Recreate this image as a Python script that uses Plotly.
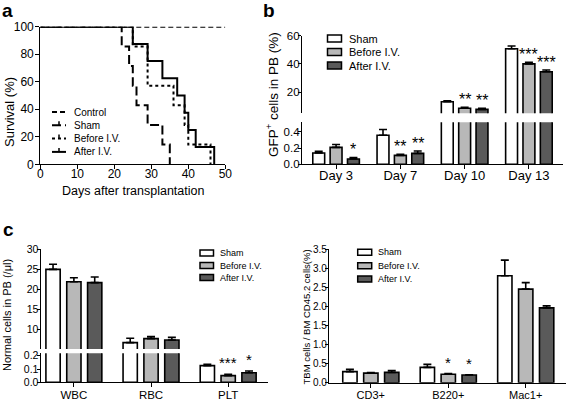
import plotly.graph_objects as go

W, H = 567, 402
def px(x): return x / W
def py(y): return 1 - y / H

FONT = "Liberation Sans, Arial, sans-serif"

# ---------------- data ----------------
# panel a: Kaplan-Meier survival
days_control = [0, 50]
surv_control = [100, 100]
days_sham = [0, 22, 24, 25, 26, 29, 33, 35]
surv_sham = [100, 85.7, 71.4, 57.1, 42.9, 28.6, 14.3, 0]
days_before = [0, 25, 29, 36, 39, 40, 46]
surv_before = [100, 85.7, 57.1, 42.9, 28.6, 14.3, 0]
days_after = [0, 25, 29, 33, 37, 39, 40, 42, 47]
surv_after = [100, 87.5, 75, 62.5, 50, 37.5, 25, 12.5, 0]

# panel b: GFP+ cells in PB (%)
b_days = ["Day 3", "Day 7", "Day 10", "Day 13"]
b_sham = [0.14, 0.36, 13.2, 50.8]
b_sham_err = [0.02, 0.07, 0.7, 1.9]
b_before = [0.21, 0.11, 8.6, 40.0]
b_before_err = [0.035, 0.015, 0.6, 1.1]
b_after = [0.065, 0.135, 7.8, 34.5]
b_after_err = [0.02, 0.03, 0.7, 1.2]
b_sham_sig = ["", "", "", ""]
b_before_sig = ["", "**", "**", "***"]
b_after_sig = ["*", "**", "**", "***"]

# panel c (left): normal cells in PB
c_cells = ["WBC", "RBC", "PLT"]
c_sham = [24.9, 6.6, 0.125]
c_sham_err = [1.3, 1.1, 0.01]
c_before = [21.8, 7.6, 0.05]
c_before_err = [1.0, 0.5, 0.01]
c_after = [21.6, 7.25, 0.072]
c_after_err = [1.4, 0.65, 0.013]
c_sham_sig = ["", "", ""]
c_before_sig = ["", "", "***"]
c_after_sig = ["", "", "*"]

# panel c (right): TBM cells / BM CD45.2 cells (%)
d_types = ["CD3+", "B220+", "Mac1+"]
d_sham = [0.29, 0.40, 2.80]
d_sham_err = [0.06, 0.08, 0.41]
d_before = [0.25, 0.22, 2.45]
d_before_err = [0.015, 0.02, 0.17]
d_after = [0.27, 0.20, 1.96]
d_after_err = [0.05, 0.01, 0.05]
d_sham_sig = ["", "", ""]
d_before_sig = ["", "*", ""]
d_after_sig = ["", "*", ""]

group_names = ["Sham", "Before I.V.", "After I.V."]
group_fill = ["#ffffff", "#b8b8b8", "#5a5a5a"]

fig = go.Figure()
annotations = []
shapes = []

# ---------------- panel a ----------------
line_specs = [
    ("Control", days_control, surv_control, "5px,3px", False),
    ("Sham", days_sham, surv_sham, "9px,4px", True),
    ("Before I.V.", days_before, surv_before, "3px,3px", True),
    ("After I.V.", days_after, surv_after, "solid", True),
]
for name, xs, ys, dash, _ in line_specs:
    fig.add_trace(go.Scatter(x=xs, y=ys, mode="lines", name=name,
                             line=dict(color="black", width=2, dash=dash, shape="hv"),
                             xaxis="x", yaxis="y", showlegend=False, hoverinfo="skip"))

# legend a (manual)
for i, (name, _, _, dash, tick) in enumerate(line_specs):
    yy = 112 + i * 13.3
    shapes.append(dict(type="line", xref="paper", yref="paper",
                       x0=px(52), x1=px(66), y0=py(yy), y1=py(yy),
                       line=dict(color="black", width=2, dash=dash)))
    if tick:
        shapes.append(dict(type="line", xref="paper", yref="paper",
                           x0=px(59), x1=px(59), y0=py(yy), y1=py(yy - 4),
                           line=dict(color="black", width=1.5)))
    annotations.append(dict(text=name, xref="paper", yref="paper", x=px(71.5), y=py(yy),
                            xanchor="left", yanchor="middle", showarrow=False,
                            font=dict(size=10, color="black", family=FONT)))

# ---------------- bar helper ----------------
BW = 0.185
STEP = 0.27

def add_bars(cats, series, xa, yaxes, sig_font, sig_shift):
    # series: list of (vals, errs, sigs)
    n = len(cats)
    for k, (vals, errs, sigs) in enumerate(series):
        off = (k - 1) * STEP - BW / 2
        for ya, lo, hi in yaxes:
            fig.add_trace(go.Bar(
                x=cats, y=vals, width=BW, offset=off,
                marker=dict(color=group_fill[k], line=dict(color="black", width=1.6)),
                error_y=dict(type="data", symmetric=False, array=errs, arrayminus=[0] * n,
                             color="black", thickness=1.6, width=4),
                xaxis=xa, yaxis=ya, showlegend=False, hoverinfo="skip", name=group_names[k]))
        for i, s in enumerate(sigs):
            if not s:
                continue
            top = vals[i] + errs[i]
            for ya, lo, hi in yaxes:
                if lo <= top <= hi:
                    annotations.append(dict(
                        text=s, xref=xa, yref=ya, x=i + off + BW / 2, y=top,
                        xanchor="center", yanchor="bottom", yshift=sig_shift,
                        showarrow=False, font=dict(size=sig_font, color="black", family=FONT)))

def bar_legend(x0, x1, rows, h, tx, size):
    for k, yy in enumerate(rows):
        shapes.append(dict(type="rect", xref="paper", yref="paper",
                           x0=px(x0), x1=px(x1), y0=py(yy + h / 2), y1=py(yy - h / 2),
                           fillcolor=group_fill[k], line=dict(color="black", width=1.5)))
        annotations.append(dict(text=group_names[k], xref="paper", yref="paper",
                                x=px(tx), y=py(yy), xanchor="left", yanchor="middle",
                                showarrow=False, font=dict(size=size, color="black", family=FONT)))

# ---------------- panel b ----------------
add_bars(b_days,
         [(b_sham, b_sham_err, b_sham_sig), (b_before, b_before_err, b_before_sig),
          (b_after, b_after_err, b_after_sig)],
         "x2", [("y2", 0, 0.52), ("y3", 5, 60)], 16, -3)
bar_legend(327.5, 341.5, [38.5, 52, 65.5], 7, 347, 11)

# ---------------- panel c left ----------------
add_bars(c_cells,
         [(c_sham, c_sham_err, c_sham_sig), (c_before, c_before_err, c_before_sig),
          (c_after, c_after_err, c_after_sig)],
         "x3", [("y4", 0, 0.218), ("y5", 5, 30)], 15, 1)
bar_legend(200, 213.5, [253, 265.5, 277.5], 6, 218, 9)

# ---------------- panel c right ----------------
add_bars(d_types,
         [(d_sham, d_sham_err, d_sham_sig), (d_before, d_before_err, d_before_sig),
          (d_after, d_after_err, d_after_sig)],
         "x4", [("y6", 0, 3.5)], 15, 1)
bar_legend(357.7, 371.7, [252.3, 265.7, 279], 6, 376, 9)

# ---------------- axes ----------------
def ax(size, standoff=0, ticklen=4, **kw):
    base = dict(showline=True, linecolor="black", linewidth=1.3, ticks="outside",
                ticklen=ticklen, tickwidth=1.3, tickcolor="black", showgrid=False,
                zeroline=False, fixedrange=True, automargin=False,
                ticklabelstandoff=standoff,
                tickfont=dict(size=size, color="black", family=FONT))
    base.update(kw)
    return base

layout = dict(
    template="none",
    width=W, height=H, autosize=False,
    margin=dict(l=0, r=0, t=0, b=0, pad=0),
    paper_bgcolor="white", plot_bgcolor="rgba(0,0,0,0)",
    barmode="overlay", showlegend=False,
    font=dict(family=FONT, color="black"),
    # panel a
    xaxis=ax(12, -6, domain=[px(40.3), px(225.3)], range=[0, 50], anchor="y",
             tickvals=[0, 10, 20, 30, 40, 50]),
    yaxis=ax(12, -1, domain=[py(164.3), py(26.7)], range=[0, 100], anchor="x",
             tickvals=[0, 20, 40, 60, 80, 100]),
    # panel b
    xaxis2=ax(13, -5, domain=[px(302), px(563)], range=[-0.53, 3.53], anchor="y2",
              type="category"),
    yaxis2=ax(11.5, -4, 3, domain=[py(164.3), py(122.3)], range=[0, 0.52], anchor="x2",
              tickvals=[0, 0.2, 0.4], ticktext=["0.0", "0.2", "0.4"]),
    yaxis3=ax(11.5, -4, 3, domain=[py(113.3), py(35.7)], range=[5, 60], anchor="x2",
              tickvals=[20, 40, 60], ticktext=["20", "40", "60"]),
    # panel c left
    xaxis3=ax(11.5, -2, domain=[px(40.7), px(268.3)], range=[-0.43, 2.52], anchor="y4",
              type="category"),
    yaxis4=ax(10.5, -4, 3, domain=[py(382.3), py(353.3)], range=[0, 0.218], anchor="x3",
              tickvals=[0, 0.1, 0.2], ticktext=["0.0", "0.1", "0.2"]),
    yaxis5=ax(10.5, -4, 3, domain=[py(349), py(249)], range=[5, 30], anchor="x3",
              tickvals=[10, 15, 20, 25, 30], ticktext=["10", "15", "20", "25", "30"]),
    # panel c right
    xaxis4=ax(11, -2, domain=[px(329), px(566)], range=[-0.54, 2.52], anchor="y6",
              type="category"),
    yaxis6=ax(10, -4, 3, domain=[py(382.7), py(249)], range=[0, 3.5], anchor="x4",
              tickvals=[0, 0.5, 1, 1.5, 2, 2.5, 3, 3.5],
              ticktext=["0.0", "0.5", "1.0", "1.5", "2.0", "2.5", "3.0", "3.5"]),
)

# axis titles & panel labels
def txt(text, x, y, size, angle=0, bold=False):
    annotations.append(dict(text=("<b>%s</b>" % text) if bold else text,
                            xref="paper", yref="paper", x=px(x), y=py(y),
                            xanchor="center", yanchor="middle", textangle=angle,
                            showarrow=False, font=dict(size=size, color="black", family=FONT)))

txt("Days after transplantation", 132.5, 191, 12.5)
txt("Survival (%)", 9, 112, 13, angle=-90)
txt("GFP<sup>+</sup> cells in PB (%)", 272, 95, 13.5, angle=-90)
txt("Normal cells in PB (/μl)", 7, 315, 11, angle=-90)
txt("TBM cells / BM CD45.2 cells(%)", 306, 317.5, 9.5, angle=-90)
txt("a", 7, 10, 19, bold=True)
txt("b", 269, 10, 19, bold=True)
txt("c", 8, 230, 19, bold=True)

layout["annotations"] = annotations
layout["shapes"] = shapes
fig.update_layout(**layout)
fig.write_html("out.html", config={"displayModeBar": False},
               post_script="document.body.style.margin='0';document.body.style.overflow='hidden';")
